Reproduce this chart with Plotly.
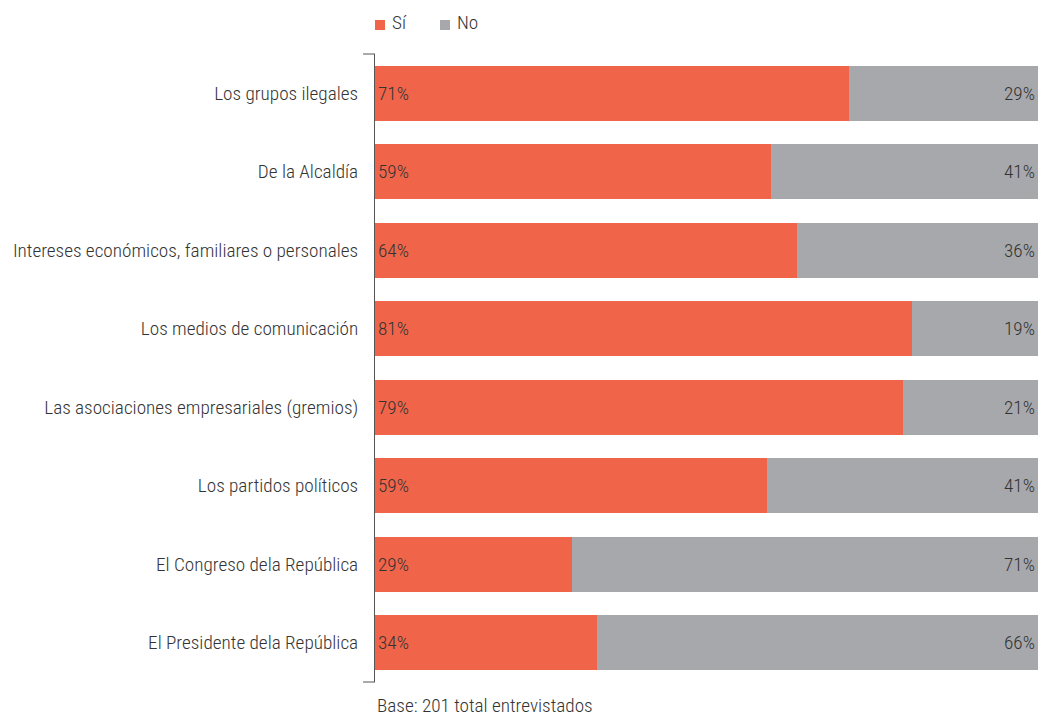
import plotly.graph_objects as go

categories = [
    "Los grupos ilegales",
    "De la Alcaldía",
    "Intereses económicos, familiares o personales",
    "Los medios de comunicación",
    "Las asociaciones empresariales (gremios)",
    "Los partidos políticos",
    "El Congreso dela República",
    "El Presidente dela República",
]
si_values = [71.5, 59.7, 63.6, 81.0, 79.6, 59.1, 29.7, 33.5]
no_values = [28.5, 40.3, 36.4, 19.0, 20.4, 40.9, 70.3, 66.5]
si_labels = ["71%", "59%", "64%", "81%", "79%", "59%", "29%", "34%"]
no_labels = ["29%", "41%", "36%", "19%", "21%", "41%", "71%", "66%"]
series_names = ["Sí", "No"]

FONT = "Roboto Condensed, Liberation Sans Narrow, Roboto, Arial, sans-serif"
ORANGE = "#F0654A"
GRAY = "#A7A8AB"
TXT = "#333333"
FS = 19.2
FW = 300
TOP, BOT = 54, 36

def f():
    return dict(size=FS, color=TXT, family=FONT, weight=FW)

fig = go.Figure()
fig.add_trace(go.Bar(
    y=categories, x=si_values, name=series_names[0], orientation="h",
    marker=dict(color=ORANGE, line=dict(width=0)), hoverinfo="skip",
))
fig.add_trace(go.Bar(
    y=categories, x=no_values, name=series_names[1], orientation="h",
    marker=dict(color=GRAY, line=dict(width=0)), hoverinfo="skip",
))

# value labels
for cat, t in zip(categories, si_labels):
    fig.add_annotation(x=0, y=cat, xref="x", yref="y", text=t, showarrow=False,
                       xanchor="left", xshift=1, font=f())
for cat, t in zip(categories, no_labels):
    fig.add_annotation(x=100, y=cat, xref="x", yref="y", text=t, showarrow=False,
                       xanchor="right", xshift=-1, font=f())

fig.update_layout(
    barmode="stack", bargap=0.3,
    width=1038, height=718,
    margin=dict(l=375, r=0, t=TOP, b=BOT, autoexpand=False),
    paper_bgcolor="white", plot_bgcolor="white",
    font=f(),
    showlegend=False,
    xaxis=dict(range=[0, 100], showgrid=False, zeroline=False, showticklabels=False,
               showline=False, fixedrange=True),
    yaxis=dict(autorange="reversed", showgrid=False, zeroline=False,
               showline=True, linecolor="#555555", linewidth=1,
               ticks="", ticklabelstandoff=12, fixedrange=True,
               tickfont=f()),
)

# axis end ticks
for yp in (0, 1):
    fig.add_shape(type="line", xref="paper", yref="paper",
                  x0=-0.018, x1=0, y0=yp, y1=yp,
                  line=dict(color="#555555", width=1))

# legend (manual, to match placement)
PH = 718 - TOP - BOT
PW = 1038 - 375
def px_x(p):
    return p / PW
def px_y(p):
    return (718 - BOT - p) / PH
legend_items = [(series_names[0], ORANGE, 375), (series_names[1], GRAY, 440)]
for name, col, x0 in legend_items:
    fig.add_shape(type="rect", xref="paper", yref="paper",
                  x0=px_x(x0 - 375), x1=px_x(x0 - 375 + 10),
                  y0=px_y(30), y1=px_y(20), fillcolor=col, line=dict(width=0))
    fig.add_annotation(text=name, xref="paper", yref="paper",
                       x=px_x(x0 - 375 + 15), y=px_y(22), xanchor="left", yanchor="middle",
                       showarrow=False, font=f())

fig.add_annotation(text="Base: 201 total entrevistados", xref="paper", yref="paper",
                   x=0, y=px_y(705), xanchor="left", yanchor="middle", showarrow=False,
                   font=f())

fig.write_html("out.html", config={"displayModeBar": False},
               post_script="document.body.style.margin='0';document.body.style.overflow='hidden';")
